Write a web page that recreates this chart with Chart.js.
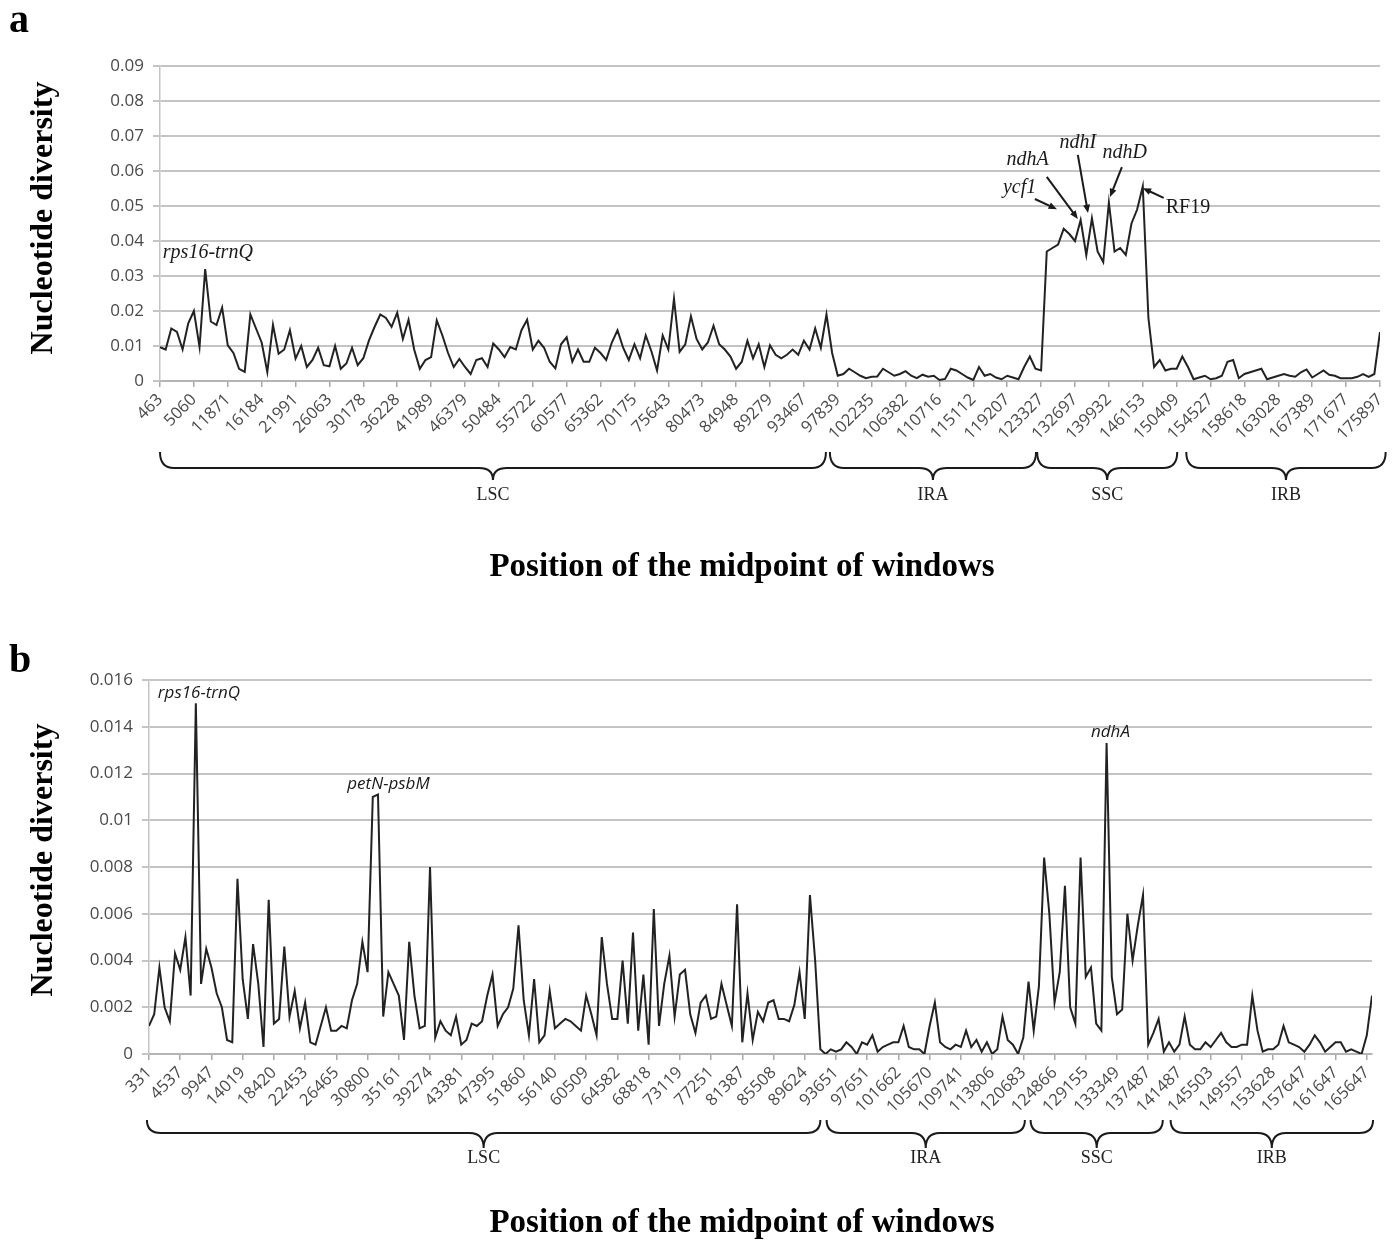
<!DOCTYPE html>
<html>
<head>
<meta charset="utf-8">
<script src="https://cdn.jsdelivr.net/npm/chart.js@4.4.1/dist/chart.umd.min.js"></script>
<style>
body { margin: 0; background: #fff; width: 1400px; height: 1243px; overflow: hidden; }
canvas { display: block; }
</style>
</head>
<body>
<canvas id="chartA" width="1400" height="620"></canvas>
<canvas id="chartB" width="1400" height="623"></canvas>
<script>
// windows between two labelled ticks
const STEP = 6;

const ticksA = [463, 5060, 11871, 16184, 21991, 26063, 30178, 36228, 41989, 46379,
  50484, 55722, 60577, 65362, 70175, 75643, 80473, 84948, 89279, 93467,
  97839, 102235, 106382, 110716, 115112, 119207, 123327, 132697, 139932, 146153,
  150409, 154527, 158618, 163028, 167389, 171677, 175897];

const valuesA = [
  0.0097, 0.009, 0.015, 0.014, 0.009, 0.0165,
  0.020, 0.0097, 0.032, 0.017, 0.016, 0.021,
  0.0102, 0.008, 0.0035, 0.0026, 0.019, 0.015,
  0.011, 0.0026, 0.016, 0.0078, 0.009, 0.0145,
  0.0064, 0.010, 0.004, 0.006, 0.0095, 0.0045,
  0.0042, 0.010, 0.0035, 0.005, 0.0095, 0.0045,
  0.0065, 0.0116, 0.0155, 0.019, 0.018, 0.0155,
  0.0195, 0.012, 0.0175, 0.009, 0.0035, 0.006,
  0.0068, 0.0173, 0.013, 0.008, 0.004, 0.0063,
  0.004, 0.002, 0.006, 0.0065, 0.004, 0.0107,
  0.009, 0.0068, 0.0097, 0.009, 0.0145, 0.0175,
  0.009, 0.0115, 0.0095, 0.0055, 0.0036, 0.0105,
  0.0125, 0.0055, 0.009, 0.0055, 0.0055, 0.0095,
  0.008, 0.006, 0.011, 0.0145, 0.0095, 0.006,
  0.0105, 0.0065, 0.013, 0.0085, 0.003, 0.013,
  0.009, 0.0235, 0.0083, 0.0105, 0.0185, 0.012,
  0.009, 0.011, 0.0158, 0.0105, 0.009, 0.007,
  0.0035, 0.0055, 0.0115, 0.0065, 0.0105, 0.004,
  0.0102, 0.0075, 0.0065, 0.0075, 0.009, 0.0075,
  0.0115, 0.009, 0.015, 0.0095, 0.019, 0.008,
  0.0015, 0.002, 0.0035, 0.0025, 0.0015, 0.0008,
  0.0012, 0.0013, 0.0035, 0.0025, 0.0015, 0.002,
  0.0028, 0.0015, 0.0008, 0.0018, 0.0012, 0.0015,
  0.0003, 0.0006, 0.0035, 0.003, 0.002, 0.001,
  0.0003, 0.004, 0.0015, 0.002, 0.001, 0.0005,
  0.0015, 0.001, 0.0005, 0.004, 0.007, 0.0035,
  0.003, 0.037, 0.038, 0.039, 0.0435, 0.042,
  0.040, 0.046, 0.036, 0.0465, 0.037, 0.034,
  0.051, 0.037, 0.038, 0.036, 0.045, 0.049,
  0.0556, 0.018, 0.004, 0.006, 0.003, 0.0035,
  0.0035, 0.007, 0.004, 0.0005, 0.001, 0.0015,
  0.0005, 0.0008, 0.0015, 0.0055, 0.006, 0.0008,
  0.002, 0.0025, 0.003, 0.0035, 0.0005, 0.001,
  0.0015, 0.002, 0.0015, 0.0012, 0.0025, 0.0033,
  0.001, 0.002, 0.003, 0.0018, 0.0015, 0.0008,
  0.0008, 0.0008, 0.0012, 0.002, 0.0012, 0.002,
  0.014
];

const ticksB = [331, 4537, 9947, 14019, 18420, 22453, 26465, 30800, 35161, 39274,
  43381, 47395, 51860, 56140, 60509, 64582, 68818, 73119, 77251, 81387,
  85508, 89624, 93651, 97651, 101662, 105670, 109741, 113806, 120683, 124866,
  129155, 133349, 137487, 141487, 145503, 149557, 153628, 157647, 161647, 165647];

const valuesB = [
  0.0012, 0.0017, 0.0037, 0.002, 0.0014, 0.0043,
  0.0036, 0.005, 0.0025, 0.015, 0.003, 0.0045,
  0.0037, 0.0026, 0.002, 0.0006, 0.0005, 0.0075,
  0.0032, 0.0015, 0.0047, 0.003, 0.0003, 0.0066,
  0.0013, 0.0015, 0.0046, 0.0016, 0.0027, 0.0011,
  0.0022, 0.0005, 0.0004, 0.0012, 0.002, 0.001,
  0.001, 0.0012, 0.0011, 0.0023, 0.003, 0.0048,
  0.0035, 0.011, 0.0111, 0.0016, 0.0035, 0.003,
  0.0025, 0.0006, 0.0048, 0.0025, 0.0011, 0.0012,
  0.008, 0.0007, 0.0014, 0.001, 0.0008, 0.0016,
  0.0004, 0.0006, 0.0013, 0.0012, 0.0014, 0.0025,
  0.0034, 0.0012, 0.0017, 0.002, 0.0028, 0.0055,
  0.0023, 0.0008, 0.0032, 0.0005, 0.0008, 0.0027,
  0.0011, 0.0013, 0.0015, 0.0014, 0.0012, 0.001,
  0.0025, 0.0017, 0.0008, 0.005, 0.003, 0.0015,
  0.0015, 0.004, 0.0013, 0.0052, 0.001, 0.0034,
  0.0004, 0.0062, 0.0012, 0.003, 0.0042, 0.0016,
  0.0034, 0.0036, 0.0017, 0.0009, 0.0022, 0.0025,
  0.0015, 0.0016, 0.003, 0.0021, 0.0012, 0.0064,
  0.0005, 0.0026, 0.0006, 0.0018, 0.0014, 0.0022,
  0.0023, 0.0015, 0.0015, 0.0014, 0.0021, 0.0035,
  0.0015, 0.0068, 0.004, 0.0002, 0, 0.0002,
  0.0001, 0.0002, 0.0005, 0.0003, 0, 0.0005,
  0.0004, 0.0008, 0.0001, 0.0003, 0.0004, 0.0005,
  0.0005, 0.0012, 0.0003, 0.0002, 0.0002, 0,
  0.0012, 0.0022, 0.0005, 0.0003, 0.0002, 0.0004,
  0.0003, 0.001, 0.0003, 0.0006, 0.0001, 0.0005,
  0, 0.0002, 0.0016, 0.0006, 0.0004, 0,
  0.0007, 0.0031, 0.001, 0.0029, 0.0084, 0.006,
  0.0022, 0.0035, 0.0072, 0.002, 0.0013, 0.0084,
  0.0033, 0.0037, 0.0013, 0.001, 0.0133, 0.0033,
  0.0017, 0.0019, 0.006, 0.004, 0.0055, 0.0068,
  0.0004, 0.0009, 0.0015, 0.0001, 0.0005, 0.0001,
  0.0004, 0.0016, 0.0004, 0.0002, 0.0002, 0.0005,
  0.0003, 0.0006, 0.0009, 0.0005, 0.0003, 0.0003,
  0.0004, 0.0004, 0.0025, 0.001, 0.0001, 0.0002,
  0.0002, 0.0004, 0.0012, 0.0005, 0.0004, 0.0003,
  0.0001, 0.0004, 0.0008, 0.0005, 0.0001, 0.0003,
  0.0005, 0.0005, 0.0001, 0.0002, 0.0001, 0,
  0.0008, 0.0025
];

// genome regions, in window index units
const regionsA = [['LSC', 0, 117.9], ['IRA', 118.6, 155.1], ['SSC', 155.3, 180.1], ['IRB', 181.7, 217]];
const regionsB = [['LSC', -0.4, 129], ['IRA', 130.2, 168.3], ['SSC', 169.4, 194.8], ['IRB', 196.3, 235.2]];

// [text, index, value, italic, align, arrow from idx/val to idx/val]
const notesA = [
  ['rps16-trnQ', 0.5, 0.0366, true, 'left', null],
  ['ycf1', 152.2, 0.0551, true, 'center', [154.9, 0.052, 158.8, 0.0491]],
  ['ndhA', 153.6, 0.0631, true, 'center', [157.0, 0.0583, 162.5, 0.0463]],
  ['ndhI', 162.5, 0.068, true, 'center', [162.5, 0.0646, 164.3, 0.048]],
  ['ndhD', 170.8, 0.0651, true, 'center', [170.3, 0.0611, 168.2, 0.0526]],
  ['RF19', 182, 0.0494, false, 'center', [177.7, 0.0523, 174.0, 0.0551]]
];
const notesB = [
  ['rps16-trnQ', 1.7, 0.01544, true, 'left', null],
  ['petN-psbM', 38.1, 0.01155, true, 'left', null],
  ['ndhA', 181, 0.01378, true, 'left', null]
];

const decorate = {
  id: 'decorate',
  afterDraw(chart, args, o) {
    const ctx = chart.ctx, xs = chart.scales.x, ys = chart.scales.y, bottom = chart.chartArea.bottom;
    ctx.save();
    ctx.fillStyle = '#000';
    ctx.textAlign = 'left';
    ctx.textBaseline = 'alphabetic';
    ctx.font = 'bold 40px "Liberation Serif"';
    ctx.fillText(o.letter, 9, o.letterY);

    ctx.save();
    ctx.translate(44, o.yTitleY);
    ctx.rotate(-Math.PI / 2);
    ctx.font = 'bold 32px "Liberation Serif"';
    ctx.textAlign = 'center';
    ctx.textBaseline = 'middle';
    ctx.fillText('Nucleotide diversity', 0, 0);
    ctx.restore();

    ctx.font = 'bold 33px "Liberation Serif"';
    ctx.textAlign = 'center';
    ctx.textBaseline = 'middle';
    ctx.fillText('Position of the midpoint of windows', 742, o.xTitleY);

    // braces under the axis
    ctx.strokeStyle = '#1a1a1a';
    ctx.lineWidth = 2;
    const [bt, bm, bp, bl] = o.brace;
    o.regions.forEach(([name, a, b]) => {
      const x1 = xs.getPixelForValue(a), x2 = xs.getPixelForValue(b), xc = (x1 + x2) / 2;
      const top = bottom + bt, mid = bottom + bm, tip = bottom + bp, r = 14;
      ctx.beginPath();
      ctx.moveTo(x1, top);
      ctx.quadraticCurveTo(x1, mid, x1 + r, mid);
      ctx.lineTo(xc - r, mid);
      ctx.quadraticCurveTo(xc, mid, xc, tip);
      ctx.quadraticCurveTo(xc, mid, xc + r, mid);
      ctx.lineTo(x2 - r, mid);
      ctx.quadraticCurveTo(x2, mid, x2, top);
      ctx.stroke();
      ctx.fillStyle = '#222';
      ctx.font = '18px "Liberation Serif"';
      ctx.fillText(name, xc, bottom + bl);
    });

    // gene labels and arrows
    o.notes.forEach(([text, i, v, italic, align, arrow]) => {
      ctx.fillStyle = '#1a1a1a';
      ctx.font = (italic ? 'italic ' : '') + o.noteFont;
      ctx.textAlign = align;
      ctx.textBaseline = 'middle';
      ctx.fillText(text, xs.getPixelForValue(i), ys.getPixelForValue(v));
      if (arrow) {
        const x0 = xs.getPixelForValue(arrow[0]), y0 = ys.getPixelForValue(arrow[1]);
        const x1 = xs.getPixelForValue(arrow[2]), y1 = ys.getPixelForValue(arrow[3]);
        const ang = Math.atan2(y1 - y0, x1 - x0), h = 9;
        ctx.strokeStyle = '#1a1a1a';
        ctx.lineWidth = 2;
        ctx.beginPath();
        ctx.moveTo(x0, y0);
        ctx.lineTo(x1 - Math.cos(ang) * 5, y1 - Math.sin(ang) * 5);
        ctx.stroke();
        ctx.beginPath();
        ctx.moveTo(x1, y1);
        ctx.lineTo(x1 - h * Math.cos(ang - 0.4), y1 - h * Math.sin(ang - 0.4));
        ctx.lineTo(x1 - h * Math.cos(ang + 0.4), y1 - h * Math.sin(ang + 0.4));
        ctx.closePath();
        ctx.fill();
      }
    });
    ctx.restore();
  }
};

function makeChart(id, values, labels, yMax, yStep, p) {
  return new Chart(document.getElementById(id), {
    type: 'line',
    data: {
      datasets: [{
        data: values.map((v, i) => ({ x: i, y: v })),
        borderColor: '#222',
        borderWidth: 2,
        pointRadius: 0,
        tension: 0
      }]
    },
    options: {
      responsive: false,
      animation: false,
      devicePixelRatio: 1,
      layout: { padding: { top: p.top, right: p.right, bottom: 0, left: 0 } },
      plugins: {
        legend: { display: false },
        tooltip: { enabled: false },
        decorate: p.deco
      },
      scales: {
        x: {
          type: 'linear',
          min: 0,
          max: values.length - 1,
          afterBuildTicks: s => { s.ticks = labels.map((_, i) => ({ value: i * STEP })); },
          afterFit: s => { s.height = p.xHeight; },
          grid: { drawOnChartArea: false, drawTicks: true, tickLength: 6, color: '#a8a8a8', lineWidth: 1.5 },
          border: { display: true, color: '#b4b4b4', width: 2 },
          ticks: {
            autoSkip: false,
            minRotation: 45,
            maxRotation: 45,
            padding: 3,
            color: '#4a4a4a',
            font: { family: 'Open Sans', size: 16.5 },
            callback: v => labels[Math.round(v / STEP)]
          }
        },
        y: {
          min: 0,
          max: yMax,
          afterFit: s => { s.width = p.yWidth; },
          grid: { color: '#c4c4c4', lineWidth: 2, tickLength: 7 },
          border: { display: true, color: '#c4c4c4', width: 1.5 },
          ticks: {
            stepSize: yStep,
            padding: 9,
            color: '#4a4a4a',
            font: { family: 'Open Sans', size: 17 },
            callback: v => v === 0 ? '0' : String(+v.toFixed(3))
          }
        }
      }
    },
    plugins: [decorate]
  });
}

makeChart('chartA', valuesA, ticksA, 0.09, 0.01, {
  top: 66, right: 20, xHeight: 239, yWidth: 160,
  deco: {
    letter: 'a', letterY: 32, yTitleY: 218, xTitleY: 567,
    brace: [71, 87, 99, 114], regions: regionsA,
    notes: notesA, noteFont: '20px "Liberation Serif"'
  }
});

makeChart('chartB', valuesB, ticksB, 0.016, 0.002, {
  top: 60, right: 28, xHeight: 189, yWidth: 149,
  deco: {
    letter: 'b', letterY: 52, yTitleY: 240, xTitleY: 603,
    brace: [66, 79, 94, 104], regions: regionsB,
    notes: notesB, noteFont: '17px "Open Sans"'
  }
});
</script>
</body>
</html>
